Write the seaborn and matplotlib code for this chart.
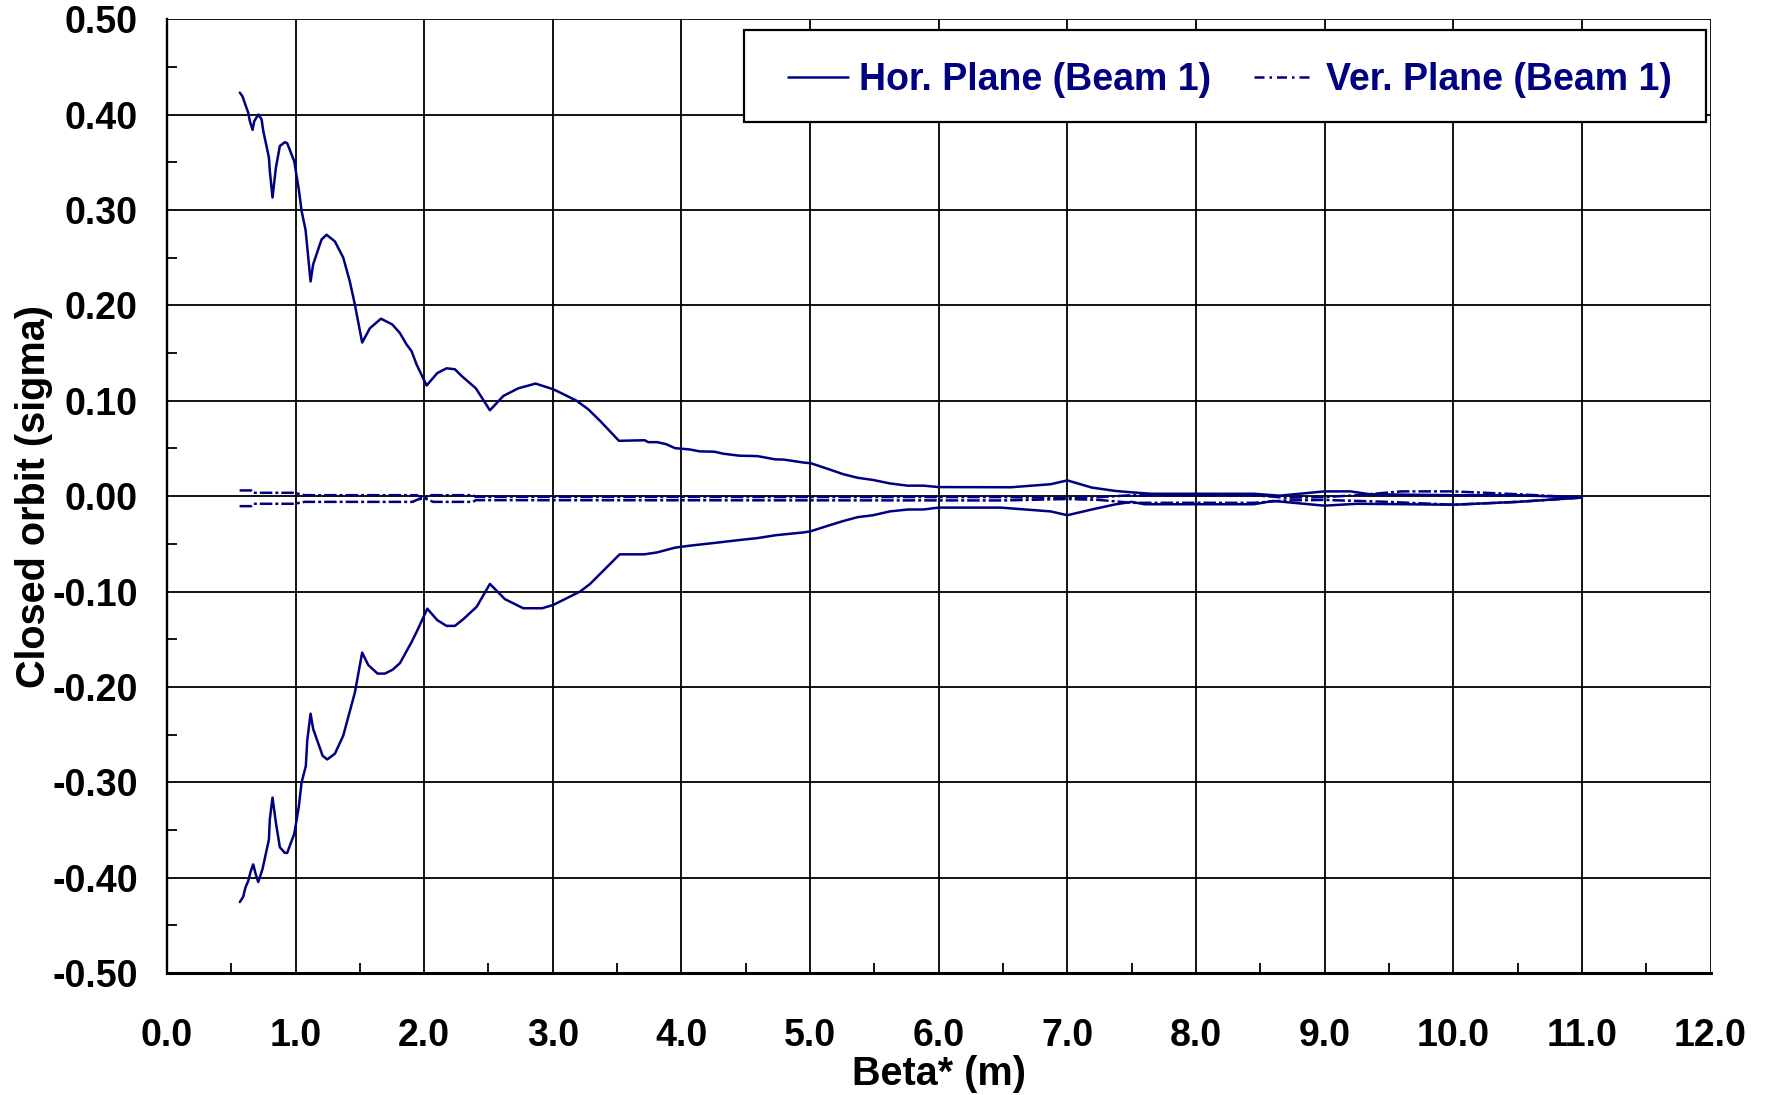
import numpy as np
import pandas as pd
import matplotlib
matplotlib.use("Agg")
import matplotlib.pyplot as plt
from matplotlib.ticker import MultipleLocator, FormatStrFormatter
from matplotlib.lines import Line2D
from matplotlib.patches import Rectangle
import seaborn as sns

# ---------------- data ----------------
hor_up_x = [0.567, 0.588, 0.611, 0.632, 0.645, 0.666, 0.679, 0.710, 0.736, 0.749, 0.793, 0.800,
            0.821, 0.847, 0.878, 0.917, 0.935, 0.990, 1.026, 1.047, 1.078, 1.117, 1.137, 1.202,
            1.241, 1.306, 1.371, 1.422, 1.461, 1.518, 1.578, 1.664, 1.752, 1.811, 1.863, 1.902,
            1.941, 2.019, 2.102, 2.174, 2.239, 2.291, 2.402, 2.511, 2.615, 2.731, 2.866, 3.004,
            3.081, 3.185, 3.276, 3.367, 3.514, 3.714, 3.742, 3.811, 3.881, 3.950, 4.061, 4.144,
            4.256, 4.325, 4.450, 4.589, 4.728, 4.797, 4.950, 5.006, 5.144, 5.256, 5.367, 5.492,
            5.617, 5.756, 5.881, 6.000, 6.560, 6.870, 7.000, 7.190, 7.370, 7.500, 7.650, 8.450,
            8.650, 9.000, 9.200, 9.350, 10.000, 10.500, 11.000]
hor_up_y = [0.423, 0.419, 0.410, 0.402, 0.393, 0.384, 0.393, 0.400, 0.395, 0.383, 0.355, 0.341,
            0.313, 0.344, 0.367, 0.371, 0.370, 0.351, 0.321, 0.299, 0.279, 0.225, 0.243, 0.269,
            0.274, 0.267, 0.250, 0.225, 0.201, 0.161, 0.176, 0.186, 0.180, 0.171, 0.159, 0.152,
            0.138, 0.116, 0.129, 0.134, 0.133, 0.126, 0.113, 0.090, 0.105, 0.113, 0.118, 0.112,
            0.107, 0.100, 0.091, 0.079, 0.058, 0.0586, 0.0566, 0.0566, 0.0545, 0.0503, 0.049, 0.0469,
            0.0466, 0.0445, 0.0424, 0.042, 0.0386, 0.0383, 0.0352, 0.0345, 0.0283, 0.0231, 0.0193, 0.0169,
            0.0134, 0.011, 0.011, 0.0095, 0.0093, 0.0125, 0.0165, 0.009, 0.0055, 0.004, 0.0025, 0.0025,
            0.0005, 0.005, 0.005, 0.002, 0.001, 0.001, -0.0015]

hor_lo_x = [0.567, 0.593, 0.611, 0.632, 0.650, 0.671, 0.691, 0.710, 0.743, 0.793, 0.800, 0.821,
            0.847, 0.878, 0.917, 0.935, 0.990, 1.026, 1.047, 1.080, 1.091, 1.117, 1.137, 1.210,
            1.246, 1.306, 1.371, 1.461, 1.518, 1.565, 1.638, 1.695, 1.754, 1.812, 1.902, 1.946,
            2.024, 2.102, 2.174, 2.239, 2.304, 2.408, 2.511, 2.628, 2.770, 2.918, 3.004, 3.212,
            3.290, 3.520, 3.710, 3.810, 3.950, 4.060, 4.260, 4.450, 4.590, 4.730, 4.950, 5.000,
            5.140, 5.260, 5.370, 5.490, 5.620, 5.760, 5.880, 6.000, 6.480, 6.870, 7.000, 7.190,
            7.370, 7.500, 7.600, 8.450, 8.600, 9.000, 9.250, 10.000, 10.500, 11.000]
hor_lo_y = [-0.4255, -0.420, -0.410, -0.4035, -0.394, -0.386, -0.3965, -0.4045, -0.391, -0.360, -0.339, -0.316,
            -0.342, -0.368, -0.374, -0.374, -0.354, -0.325, -0.300, -0.283, -0.256, -0.228, -0.244, -0.272,
            -0.276, -0.270, -0.251, -0.206, -0.164, -0.177, -0.186, -0.186, -0.182, -0.175, -0.153, -0.141,
            -0.118, -0.130, -0.136, -0.136, -0.129, -0.116, -0.092, -0.108, -0.1175, -0.1175, -0.114, -0.100,
            -0.092, -0.061, -0.061, -0.059, -0.054, -0.052, -0.049, -0.046, -0.044, -0.041, -0.038, -0.037,
            -0.031, -0.026, -0.022, -0.020, -0.016, -0.014, -0.014, -0.012, -0.012, -0.016, -0.020, -0.014,
            -0.0087, -0.006, -0.0085, -0.0085, -0.005, -0.010, -0.008, -0.009, -0.006, -0.0015]

ver_up_x = [0.565, 0.655, 0.668, 0.990, 1.070, 1.940, 2.000, 2.040, 2.380, 2.400, 6.500, 7.000,
            7.250, 7.500, 8.450, 8.700, 9.000, 9.250, 9.600, 10.000, 10.500, 11.000]
ver_up_y = [0.006, 0.006, 0.0035, 0.0035, 0.001, 0.001, -0.002, 0.001, 0.001, -0.0007, -0.001, -0.002,
            -0.001, 0.001, 0.001, -0.0017, -0.001, 0.001, 0.005, 0.005, 0.002, -0.0015]

ver_lo_x = [0.565, 0.655, 0.668, 0.990, 1.070, 1.910, 1.950, 2.000, 2.070, 2.380, 2.400, 6.500,
            7.000, 7.250, 7.500, 8.450, 8.700, 9.000, 9.500, 10.000, 10.500, 11.000]
ver_lo_y = [-0.0105, -0.0105, -0.008, -0.008, -0.006, -0.006, -0.0035, -0.002, -0.006, -0.006, -0.0042, -0.0045,
            -0.003, -0.004, -0.007, -0.007, -0.0045, -0.004, -0.006, -0.009, -0.006, -0.0015]

x_ticks = [0.0, 1.0, 2.0, 3.0, 4.0, 5.0, 6.0, 7.0, 8.0, 9.0, 10.0, 11.0, 12.0]
y_ticks = [-0.5, -0.4, -0.3, -0.2, -0.1, 0.0, 0.1, 0.2, 0.3, 0.4, 0.5]
legend_labels = ["Hor. Plane (Beam 1)", "Ver. Plane (Beam 1)"]
x_label = "Beta* (m)"
y_label = "Closed orbit (sigma)"

# ---------------- style ----------------
sns.set_theme(style="white")
plt.rcParams["font.family"] = ["Liberation Sans", "DejaVu Sans"]
plt.rcParams["font.weight"] = "bold"
plt.rcParams["axes.unicode_minus"] = False

NAVY = "#000080"
DASHDOT = (0, (5, 1.2, 1.2, 1.2))
LW = 1.8

fig = plt.figure(figsize=(17.68, 10.95), dpi=100)
ax = fig.add_axes([0.0944, 0.1113, 0.8731, 0.8712])

def frame(x, y):
    return pd.DataFrame({"x": x, "y": y})

sns.lineplot(data=frame(hor_up_x, hor_up_y), x="x", y="y", ax=ax, color=NAVY, lw=LW,
             estimator=None, sort=False)
sns.lineplot(data=frame(hor_lo_x, hor_lo_y), x="x", y="y", ax=ax, color=NAVY, lw=LW,
             estimator=None, sort=False)
sns.lineplot(data=frame(ver_up_x, ver_up_y), x="x", y="y", ax=ax, color=NAVY, lw=LW,
             estimator=None, sort=False, linestyle=DASHDOT)
sns.lineplot(data=frame(ver_lo_x, ver_lo_y), x="x", y="y", ax=ax, color=NAVY, lw=LW,
             estimator=None, sort=False, linestyle=DASHDOT)

ax.set_xlim(x_ticks[0], x_ticks[-1])
ax.set_ylim(y_ticks[0], y_ticks[-1])
ax.set_xticks(x_ticks)
ax.set_yticks(y_ticks)
ax.xaxis.set_minor_locator(MultipleLocator(0.5))
ax.yaxis.set_minor_locator(MultipleLocator(0.05))
ax.xaxis.set_major_formatter(FormatStrFormatter("%.1f"))
ax.yaxis.set_major_formatter(FormatStrFormatter("%.2f"))

ax.grid(True, which="major", color="black", lw=1.3)
ax.set_axisbelow(True)
for side in ["top", "right"]:
    ax.spines[side].set_visible(False)
ax.spines["left"].set_color("black")
ax.spines["left"].set_linewidth(1.7)
ax.spines["bottom"].set_color("black")
ax.spines["bottom"].set_linewidth(2.2)

ax.tick_params(axis="x", which="major", direction="out", length=10, width=1.3, color="black",
               labelsize=27, pad=22)
ax.tick_params(axis="y", which="major", direction="out", length=7, width=1.3, color="black",
               labelsize=27, pad=14)
ax.tick_params(axis="both", which="minor", direction="in", length=7, width=1.3, color="black",
               bottom=True, left=True)
for lab in ax.get_xticklabels() + ax.get_yticklabels():
    lab.set_fontweight("bold")
    lab.set_color("black")

ax.set_xlabel(x_label, fontsize=28.5, fontweight="bold", color="black")
ax.set_ylabel(y_label, fontsize=28.5, fontweight="bold", color="black")
ax.xaxis.set_label_coords(0.5, -0.086)
ax.yaxis.set_label_coords(-0.074, 0.5)

# legend box (drawn as a frame) with the entries centred inside
box_x0, box_y0, box_w, box_h = 0.374, 0.892, 0.623, 0.0965
ax.add_patch(Rectangle((box_x0, box_y0), box_w, box_h, transform=ax.transAxes,
                       facecolor="white", edgecolor="black", lw=1.6, zorder=5, clip_on=False))
handles = [Line2D([], [], color=NAVY, lw=LW),
           Line2D([], [], color=NAVY, lw=LW, linestyle=(0, (4, 2, 1, 2)))]
leg = ax.legend(handles, legend_labels, loc="center",
                bbox_to_anchor=(box_x0 + box_w / 2 + 0.003, box_y0 + box_h / 2 - 0.004),
                ncol=2, frameon=False,
                prop={"family": ["Liberation Sans"], "weight": "bold", "size": 27},
                handlelength=1.6, handletextpad=0.3, columnspacing=1.15,
                borderpad=0.0, borderaxespad=0)
leg.set_zorder(6)
for t in leg.get_texts():
    t.set_color(NAVY)

fig.savefig("out.png", dpi=100, facecolor="white")
